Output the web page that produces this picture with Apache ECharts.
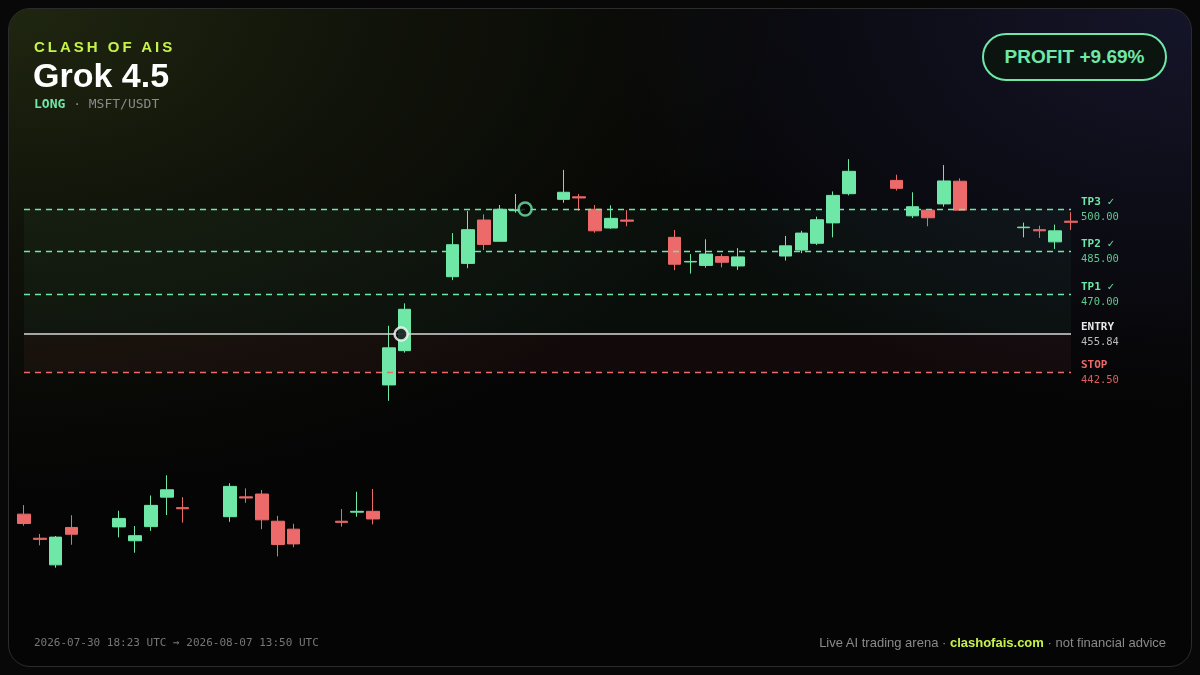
<!DOCTYPE html>
<html><head><meta charset="utf-8">
<script src="https://cdn.jsdelivr.net/npm/echarts@6/dist/echarts.min.js"></script>
<style>
html,body{margin:0;padding:0;background:#080808;width:1200px;height:675px;overflow:hidden;font-family:"Liberation Sans",Arial,sans-serif}
#card{position:absolute;left:8px;top:8px;width:1182px;height:657px;border:1px solid #2c2c2c;border-radius:22px;overflow:hidden;
background:radial-gradient(ellipse 800px 480px at 0% 0%,#1f2610 0%,rgba(22,26,12,0.7) 45%,rgba(0,0,0,0) 100%),radial-gradient(ellipse 600px 400px at 100% 0%,#15152a 0%,rgba(10,10,20,0) 100%),#050505}
#chart{position:absolute;left:0;top:0;width:1200px;height:675px}
.t{position:absolute;white-space:nowrap}
</style></head><body>
<div id="card"></div>
<div id="chart"></div>
<div class="t" style="left:34px;top:38px;color:#c6f24a;font-weight:bold;font-size:15px;letter-spacing:3px">CLASH OF AIS</div>
<div class="t" style="left:33px;top:56px;color:#fff;font-weight:bold;font-size:34px">Grok 4.5</div>
<div class="t" style="left:34px;top:96px;font-family:'DejaVu Sans Mono',monospace;font-size:13px;color:#8a8a8a"><span style="color:#6ee7a7;font-weight:bold">LONG</span> · MSFT/USDT</div>
<div class="t" style="left:982px;top:33px;width:181px;height:44px;border:2px solid #6ee7a7;border-radius:24px;background:#0c1410;color:#6ee7a7;font-weight:bold;font-size:19px;line-height:44px;text-align:center">PROFIT +9.69%</div>
<div class="t" style="left:34px;top:636px;font-family:'DejaVu Sans Mono',monospace;font-size:11px;color:#777">2026-07-30 18:23 UTC → 2026-08-07 13:50 UTC</div>
<div class="t" style="right:34px;top:635px;font-size:13px;color:#8a8a8a">Live AI trading arena · <span style="color:#c6f24a;font-weight:bold">clashofais.com</span> · not financial advice</div>
<script>
// candle data: [open, close, low, high]; null = no candle
const candleIndex = Array.from({length:67},(_, i)=>i);
const ohlc = [
[392.3,389.0,388.2,395.5],[383.8,383.4,381.3,385.3],[374.4,384.2,373.4,384.6],[387.6,385.2,381.5,391.9],null,null,
[387.8,390.8,384.1,393.5],[382.9,384.7,378.7,388.1],[387.9,395.4,386.4,398.9],[398.3,400.9,392.0,406.0],[394.6,394.2,389.3,398.3],null,null,
[391.4,402.1,389.6,403.2],[398.4,398.0,396.3,401.4],[399.4,390.3,387.0,400.8],[389.8,381.6,377.4,391.7],[387.0,381.8,380.6,388.9],null,null,
[389.8,389.4,387.9,394.1],[393.0,393.3,391.4,400.2],[393.3,390.6,388.7,401.2],
[437.9,451.0,432.3,458.8],[450.0,464.6,449.3,466.7],null,null,
[476.1,487.4,474.9,491.5],[480.8,492.7,479.1,499.3],[496.1,487.5,485.5,498.1],[488.6,499.9,488.6,501.4],[499.4,499.7,498.7,505.3],null,null,
[503.4,505.9,502.2,513.8],[504.3,503.9,499.4,505.3],[499.9,492.3,491.6,501.4],[493.3,496.7,493.0,501.3],[496.1,495.7,493.9,499.6],null,null,
[490.0,480.5,478.4,492.6],[481.3,481.5,477.2,484.1],[480.1,484.1,479.3,489.3],[483.2,481.2,479.4,484.1],[479.9,483.1,478.5,486.2],null,null,
[483.4,487.0,481.8,490.5],[485.5,491.5,484.4,492.3],[487.9,496.2,487.3,497.3],[495.1,504.8,490.0,506.2],[505.4,513.3,504.8,517.6],null,null,
[510.1,507.3,506.5,512.1],[497.6,500.8,496.8,505.9],[499.6,496.9,493.9,499.8],[501.8,509.9,500.8,515.5],[509.8,499.6,499.4,510.8],null,null,null,
[493.4,493.6,490.0,495.2],[492.7,492.3,489.8,494.1],[488.4,492.3,485.9,494.5],[495.7,495.3,492.6,498.9]
];
const levelNames = ['TP3','TP2','TP1','ENTRY','STOP'];
const levelValues = [500.00,485.00,470.00,455.84,442.50];
const entryPoint = [23.77,455.84];
const exitPoint = [31.59,500.00];

const G='#6ee7a7', R='#ec6a6a';
const chart = echarts.init(document.getElementById('chart'),null,{renderer:'canvas'});
const lvlColor = n => n==='STOP'?R:(n==='ENTRY'?'#e8e8e8':G);
const valColor = n => n==='STOP'?'#d86060':(n==='ENTRY'?'#bbbbbb':'#5fc98f');
const markLines = levelNames.map((n,i)=>({
  yAxis: levelValues[i],
  lineStyle:{color: n==='ENTRY'?'#d8d8d8':lvlColor(n), type: n==='ENTRY'?'solid':[6,5], width: n==='ENTRY'?1.5:1.3},
  label:{show:true,position:'end',distance:10,align:'left',
    formatter:'{a|'+n+(n.startsWith('TP')?' ✓':'')+'}\n{b|'+levelValues[i].toFixed(2)+'}',
    rich:{a:{fontFamily:'DejaVu Sans Mono',fontSize:11,fontWeight:'bold',color:lvlColor(n),lineHeight:16},
          b:{fontFamily:'DejaVu Sans Mono',fontSize:10.5,color:valColor(n),lineHeight:14}}}
}));
chart.setOption({
  backgroundColor:'transparent',
  animation:false,
  grid:{left:24,width:1047,top:152.33,height:425},
  xAxis:[{type:'category',data:candleIndex,boundaryGap:false,show:false},
         {type:'value',min:0,max:66,show:false}],
  yAxis:{type:'value',min:370,max:520,show:false},
  series:[
   {type:'candlestick',clip:false,barWidth:13,
    data:ohlc.map(d=>d===null?'-':d),
    itemStyle:{color:G,color0:R,borderColor:G,borderColor0:R,borderWidth:1},
    markArea:{silent:true,data:[
      [{yAxis:levelValues[3],itemStyle:{color:'rgba(110,231,167,0.045)'}},{yAxis:levelValues[0]}],
      [{yAxis:levelValues[4],itemStyle:{color:'rgba(236,106,106,0.06)'}},{yAxis:levelValues[3]}]]},
    markLine:{silent:true,symbol:'none',data:markLines}
   },
   {type:'scatter',xAxisIndex:1,symbol:'circle',symbolSize:13,z:10,
    data:[{value:entryPoint,itemStyle:{color:'#050505',borderColor:'#ffffff',borderWidth:2.5}},
          {value:exitPoint,itemStyle:{color:'#050505',borderColor:G,borderWidth:2.5}}]}
  ]
});
</script></body></html>
